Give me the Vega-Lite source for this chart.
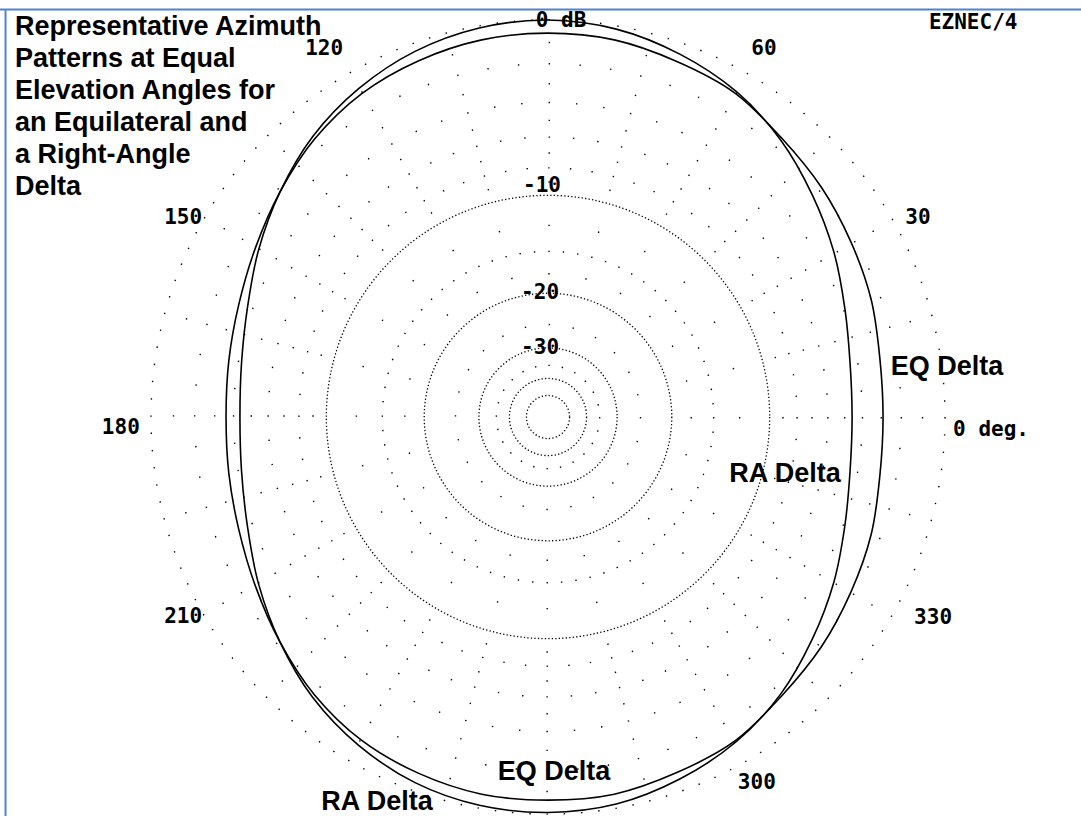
{
  "$schema": "https://vega.github.io/schema/vega-lite/v6.json",
  "width": 1081,
  "height": 816,
  "padding": 0,
  "autosize": {"type": "none"},
  "background": "white",
  "config": {"view": {"stroke": null}, "axis": {"disable": true}, "legend": {"disable": true}},
  "datasets": {
    "curves": [
      {"s": "RA", "i": 0, "x": 0.766, "y": 0},
      {"s": "RA", "i": 1, "x": 0.761, "y": 0.134},
      {"s": "RA", "i": 2, "x": 0.748, "y": 0.272},
      {"s": "RA", "i": 3, "x": 0.720, "y": 0.416},
      {"s": "RA", "i": 4, "x": 0.666, "y": 0.559},
      {"s": "RA", "i": 5, "x": 0.586, "y": 0.698},
      {"s": "RA", "i": 6, "x": 0.474, "y": 0.820},
      {"s": "RA", "i": 7, "x": 0.332, "y": 0.914},
      {"s": "RA", "i": 8, "x": 0.172, "y": 0.977},
      {"s": "RA", "i": 9, "x": 0, "y": 1.0},
      {"s": "RA", "i": 10, "x": -0.173, "y": 0.980},
      {"s": "RA", "i": 11, "x": -0.335, "y": 0.921},
      {"s": "RA", "i": 12, "x": -0.477, "y": 0.827},
      {"s": "RA", "i": 13, "x": -0.593, "y": 0.706},
      {"s": "RA", "i": 14, "x": -0.675, "y": 0.567},
      {"s": "RA", "i": 15, "x": -0.729, "y": 0.421},
      {"s": "RA", "i": 16, "x": -0.757, "y": 0.276},
      {"s": "RA", "i": 17, "x": -0.772, "y": 0.136},
      {"s": "RA", "i": 18, "x": -0.776, "y": 0},
      {"s": "RA", "i": 19, "x": -0.772, "y": -0.136},
      {"s": "RA", "i": 20, "x": -0.757, "y": -0.276},
      {"s": "RA", "i": 21, "x": -0.729, "y": -0.421},
      {"s": "RA", "i": 22, "x": -0.675, "y": -0.567},
      {"s": "RA", "i": 23, "x": -0.593, "y": -0.706},
      {"s": "RA", "i": 24, "x": -0.477, "y": -0.827},
      {"s": "RA", "i": 25, "x": -0.335, "y": -0.921},
      {"s": "RA", "i": 26, "x": -0.173, "y": -0.978},
      {"s": "RA", "i": 27, "x": 0, "y": -0.996},
      {"s": "RA", "i": 28, "x": 0.172, "y": -0.975},
      {"s": "RA", "i": 29, "x": 0.332, "y": -0.912},
      {"s": "RA", "i": 30, "x": 0.474, "y": -0.818},
      {"s": "RA", "i": 31, "x": 0.586, "y": -0.698},
      {"s": "RA", "i": 32, "x": 0.666, "y": -0.559},
      {"s": "RA", "i": 33, "x": 0.720, "y": -0.416},
      {"s": "RA", "i": 34, "x": 0.748, "y": -0.272},
      {"s": "RA", "i": 35, "x": 0.761, "y": -0.134},
      {"s": "EQ", "i": 0, "x": 0.844, "y": 0},
      {"s": "EQ", "i": 1, "x": 0.836, "y": 0.147},
      {"s": "EQ", "i": 2, "x": 0.814, "y": 0.296},
      {"s": "EQ", "i": 3, "x": 0.763, "y": 0.441},
      {"s": "EQ", "i": 4, "x": 0.689, "y": 0.578},
      {"s": "EQ", "i": 5, "x": 0.589, "y": 0.702},
      {"s": "EQ", "i": 6, "x": 0.471, "y": 0.816},
      {"s": "EQ", "i": 7, "x": 0.326, "y": 0.895},
      {"s": "EQ", "i": 8, "x": 0.167, "y": 0.950},
      {"s": "EQ", "i": 9, "x": 0, "y": 0.967},
      {"s": "EQ", "i": 10, "x": -0.167, "y": 0.950},
      {"s": "EQ", "i": 11, "x": -0.327, "y": 0.897},
      {"s": "EQ", "i": 12, "x": -0.470, "y": 0.814},
      {"s": "EQ", "i": 13, "x": -0.588, "y": 0.700},
      {"s": "EQ", "i": 14, "x": -0.675, "y": 0.567},
      {"s": "EQ", "i": 15, "x": -0.737, "y": 0.426},
      {"s": "EQ", "i": 16, "x": -0.779, "y": 0.283},
      {"s": "EQ", "i": 17, "x": -0.804, "y": 0.142},
      {"s": "EQ", "i": 18, "x": -0.811, "y": 0},
      {"s": "EQ", "i": 19, "x": -0.804, "y": -0.142},
      {"s": "EQ", "i": 20, "x": -0.779, "y": -0.283},
      {"s": "EQ", "i": 21, "x": -0.737, "y": -0.426},
      {"s": "EQ", "i": 22, "x": -0.675, "y": -0.567},
      {"s": "EQ", "i": 23, "x": -0.588, "y": -0.700},
      {"s": "EQ", "i": 24, "x": -0.470, "y": -0.814},
      {"s": "EQ", "i": 25, "x": -0.327, "y": -0.897},
      {"s": "EQ", "i": 26, "x": -0.167, "y": -0.950},
      {"s": "EQ", "i": 27, "x": 0, "y": -0.965},
      {"s": "EQ", "i": 28, "x": 0.167, "y": -0.950},
      {"s": "EQ", "i": 29, "x": 0.326, "y": -0.895},
      {"s": "EQ", "i": 30, "x": 0.471, "y": -0.816},
      {"s": "EQ", "i": 31, "x": 0.589, "y": -0.702},
      {"s": "EQ", "i": 32, "x": 0.689, "y": -0.578},
      {"s": "EQ", "i": 33, "x": 0.763, "y": -0.441},
      {"s": "EQ", "i": 34, "x": 0.814, "y": -0.296},
      {"s": "EQ", "i": 35, "x": 0.836, "y": -0.147}
    ],
    "rings": [
      {"db": 0, "r": 1},
      {"db": -1, "r": 0.9434},
      {"db": -2, "r": 0.89},
      {"db": -3, "r": 0.8396},
      {"db": -4, "r": 0.7921},
      {"db": -5, "r": 0.7473},
      {"db": -6, "r": 0.705},
      {"db": -7, "r": 0.6651},
      {"db": -8, "r": 0.6274},
      {"db": -9, "r": 0.5919},
      {"db": -10, "r": 0.5584},
      {"db": -12.5, "r": 0.4827},
      {"db": -15, "r": 0.4173},
      {"db": -17.5, "r": 0.3607},
      {"db": -20, "r": 0.3118},
      {"db": -25, "r": 0.233},
      {"db": -30, "r": 0.1741},
      {"db": -35, "r": 0.1301},
      {"db": -40, "r": 0.0972},
      {"db": -50, "r": 0.0543}
    ],
    "mono": [
      {"label": "0 dB", "x": 0.033, "y": 0.997},
      {"label": "60", "x": 0.544, "y": 0.927},
      {"label": "120", "x": -0.564, "y": 0.927},
      {"label": "30", "x": 0.932, "y": 0.501},
      {"label": "150", "x": -0.919, "y": 0.501},
      {"label": "180", "x": -1.076, "y": -0.028},
      {"label": "0 deg.", "x": 1.116, "y": -0.033},
      {"label": "210", "x": -0.919, "y": -0.504},
      {"label": "330", "x": 0.97, "y": -0.506},
      {"label": "300", "x": 0.526, "y": -0.922},
      {"label": "-10", "x": -0.015, "y": 0.582},
      {"label": "-20", "x": -0.02, "y": 0.312},
      {"label": "-30", "x": -0.02, "y": 0.174},
      {"label": "EZNEC/4", "x": 1.071, "y": 0.992}
    ],
    "sans": [
      {"label": "EQ Delta", "x": 1.005, "y": 0.126},
      {"label": "RA Delta", "x": 0.597, "y": -0.144},
      {"label": "EQ Delta", "x": 0.015, "y": -0.894},
      {"label": "RA Delta", "x": -0.431, "y": -0.97}
    ]
  },
  "encoding": {
    "x": {"type": "quantitative", "scale": {"domain": [-1.3804, 1.3426], "nice": false, "zero": false}, "axis": null},
    "y": {"type": "quantitative", "scale": {"domain": [-1.005, 1.0504], "nice": false, "zero": false}, "axis": null}
  },
  "layer": [
    {
      "data": {"values": [{}]},
      "mark": {"type": "rule", "color": "#5082d2", "strokeWidth": 2},
      "encoding": {"y": {"datum": 1.0264, "type": "quantitative"}}
    },
    {
      "data": {"values": [{}]},
      "mark": {"type": "rule", "color": "#5082d2", "strokeWidth": 2},
      "encoding": {"x": {"datum": -1.3665, "type": "quantitative"}, "y": {"datum": 1.0264, "type": "quantitative"}, "y2": {"datum": -1.005}}
    },
    {
      "data": {"name": "rings"},
      "transform": [{"filter": "datum.db == 0"}],
      "mark": {"type": "point", "shape": "circle", "filled": false, "opacity": 1, "stroke": "#000000", "strokeWidth": 1.4, "strokeDash": [1.4, 15.9224]},
      "encoding": {"x": {"datum": 0, "type": "quantitative"}, "y": {"datum": 0, "type": "quantitative"}, "size": {"field": "r", "type": "quantitative", "scale": {"type": "pow", "exponent": 2, "domain": [0, 1], "range": [0, 630436]}, "legend": null}}
    },
    {
      "data": {"name": "rings"},
      "transform": [{"filter": "datum.db == -1"}],
      "mark": {"type": "point", "shape": "circle", "filled": false, "opacity": 1, "stroke": "#000000", "strokeWidth": 1.4, "strokeDash": [1.4, 96.652]},
      "encoding": {"x": {"datum": 0, "type": "quantitative"}, "y": {"datum": 0, "type": "quantitative"}, "size": {"field": "r", "type": "quantitative", "scale": {"type": "pow", "exponent": 2, "domain": [0, 1], "range": [0, 630436]}, "legend": null}}
    },
    {
      "data": {"name": "rings"},
      "transform": [{"filter": "datum.db == -2"}],
      "mark": {"type": "point", "shape": "circle", "filled": false, "opacity": 1, "stroke": "#000000", "strokeWidth": 1.4, "strokeDash": [1.4, 29.434]},
      "encoding": {"x": {"datum": 0, "type": "quantitative"}, "y": {"datum": 0, "type": "quantitative"}, "size": {"field": "r", "type": "quantitative", "scale": {"type": "pow", "exponent": 2, "domain": [0, 1], "range": [0, 630436]}, "legend": null}}
    },
    {
      "data": {"name": "rings"},
      "transform": [{"filter": "datum.db == -3"}],
      "mark": {"type": "point", "shape": "circle", "filled": false, "opacity": 1, "stroke": "#000000", "strokeWidth": 1.4, "strokeDash": [1.4, 85.863]},
      "encoding": {"x": {"datum": 0, "type": "quantitative"}, "y": {"datum": 0, "type": "quantitative"}, "size": {"field": "r", "type": "quantitative", "scale": {"type": "pow", "exponent": 2, "domain": [0, 1], "range": [0, 630436]}, "legend": null}}
    },
    {
      "data": {"name": "rings"},
      "transform": [{"filter": "datum.db == -4"}],
      "mark": {"type": "point", "shape": "circle", "filled": false, "opacity": 1, "stroke": "#000000", "strokeWidth": 1.4, "strokeDash": [1.4, 26.042]},
      "encoding": {"x": {"datum": 0, "type": "quantitative"}, "y": {"datum": 0, "type": "quantitative"}, "size": {"field": "r", "type": "quantitative", "scale": {"type": "pow", "exponent": 2, "domain": [0, 1], "range": [0, 630436]}, "legend": null}}
    },
    {
      "data": {"name": "rings"},
      "transform": [{"filter": "datum.db == -5"}],
      "mark": {"type": "point", "shape": "circle", "filled": false, "opacity": 1, "stroke": "#000000", "strokeWidth": 1.4, "strokeDash": [1.4, 76.27]},
      "encoding": {"x": {"datum": 0, "type": "quantitative"}, "y": {"datum": 0, "type": "quantitative"}, "size": {"field": "r", "type": "quantitative", "scale": {"type": "pow", "exponent": 2, "domain": [0, 1], "range": [0, 630436]}, "legend": null}}
    },
    {
      "data": {"name": "rings"},
      "transform": [{"filter": "datum.db == -6"}],
      "mark": {"type": "point", "shape": "circle", "filled": false, "opacity": 1, "stroke": "#000000", "strokeWidth": 1.4, "strokeDash": [1.4, 23.025]},
      "encoding": {"x": {"datum": 0, "type": "quantitative"}, "y": {"datum": 0, "type": "quantitative"}, "size": {"field": "r", "type": "quantitative", "scale": {"type": "pow", "exponent": 2, "domain": [0, 1], "range": [0, 630436]}, "legend": null}}
    },
    {
      "data": {"name": "rings"},
      "transform": [{"filter": "datum.db == -7"}],
      "mark": {"type": "point", "shape": "circle", "filled": false, "opacity": 1, "stroke": "#000000", "strokeWidth": 1.4, "strokeDash": [1.4, 67.727]},
      "encoding": {"x": {"datum": 0, "type": "quantitative"}, "y": {"datum": 0, "type": "quantitative"}, "size": {"field": "r", "type": "quantitative", "scale": {"type": "pow", "exponent": 2, "domain": [0, 1], "range": [0, 630436]}, "legend": null}}
    },
    {
      "data": {"name": "rings"},
      "transform": [{"filter": "datum.db == -8"}],
      "mark": {"type": "point", "shape": "circle", "filled": false, "opacity": 1, "stroke": "#000000", "strokeWidth": 1.4, "strokeDash": [1.4, 20.336]},
      "encoding": {"x": {"datum": 0, "type": "quantitative"}, "y": {"datum": 0, "type": "quantitative"}, "size": {"field": "r", "type": "quantitative", "scale": {"type": "pow", "exponent": 2, "domain": [0, 1], "range": [0, 630436]}, "legend": null}}
    },
    {
      "data": {"name": "rings"},
      "transform": [{"filter": "datum.db == -9"}],
      "mark": {"type": "point", "shape": "circle", "filled": false, "opacity": 1, "stroke": "#000000", "strokeWidth": 1.4, "strokeDash": [1.4, 60.119]},
      "encoding": {"x": {"datum": 0, "type": "quantitative"}, "y": {"datum": 0, "type": "quantitative"}, "size": {"field": "r", "type": "quantitative", "scale": {"type": "pow", "exponent": 2, "domain": [0, 1], "range": [0, 630436]}, "legend": null}}
    },
    {
      "data": {"name": "rings"},
      "transform": [{"filter": "datum.db == -12.5"}],
      "mark": {"type": "point", "shape": "circle", "filled": false, "opacity": 1, "stroke": "#000000", "strokeWidth": 1.4, "strokeDash": [1.4, 48.769]},
      "encoding": {"x": {"datum": 0, "type": "quantitative"}, "y": {"datum": 0, "type": "quantitative"}, "size": {"field": "r", "type": "quantitative", "scale": {"type": "pow", "exponent": 2, "domain": [0, 1], "range": [0, 630436]}, "legend": null}}
    },
    {
      "data": {"name": "rings"},
      "transform": [{"filter": "datum.db == -15"}],
      "mark": {"type": "point", "shape": "circle", "filled": false, "opacity": 1, "stroke": "#000000", "strokeWidth": 1.4, "strokeDash": [1.4, 13.057]},
      "encoding": {"x": {"datum": 0, "type": "quantitative"}, "y": {"datum": 0, "type": "quantitative"}, "size": {"field": "r", "type": "quantitative", "scale": {"type": "pow", "exponent": 2, "domain": [0, 1], "range": [0, 630436]}, "legend": null}}
    },
    {
      "data": {"name": "rings"},
      "transform": [{"filter": "datum.db == -17.5"}],
      "mark": {"type": "point", "shape": "circle", "filled": false, "opacity": 1, "stroke": "#000000", "strokeWidth": 1.4, "strokeDash": [1.4, 36.089]},
      "encoding": {"x": {"datum": 0, "type": "quantitative"}, "y": {"datum": 0, "type": "quantitative"}, "size": {"field": "r", "type": "quantitative", "scale": {"type": "pow", "exponent": 2, "domain": [0, 1], "range": [0, 630436]}, "legend": null}}
    },
    {
      "data": {"name": "rings"},
      "transform": [{"filter": "datum.db == -25"}],
      "mark": {"type": "point", "shape": "circle", "filled": false, "opacity": 1, "stroke": "#000000", "strokeWidth": 1.4, "strokeDash": [1.4, 22.817]},
      "encoding": {"x": {"datum": 0, "type": "quantitative"}, "y": {"datum": 0, "type": "quantitative"}, "size": {"field": "r", "type": "quantitative", "scale": {"type": "pow", "exponent": 2, "domain": [0, 1], "range": [0, 630436]}, "legend": null}}
    },
    {
      "data": {"name": "rings"},
      "transform": [{"filter": "datum.db == -35"}],
      "mark": {"type": "point", "shape": "circle", "filled": false, "opacity": 1, "stroke": "#000000", "strokeWidth": 1.4, "strokeDash": [1.4, 12.122]},
      "encoding": {"x": {"datum": 0, "type": "quantitative"}, "y": {"datum": 0, "type": "quantitative"}, "size": {"field": "r", "type": "quantitative", "scale": {"type": "pow", "exponent": 2, "domain": [0, 1], "range": [0, 630436]}, "legend": null}}
    },
    {
      "data": {"name": "rings"},
      "transform": [{"filter": "datum.db == -10 || datum.db == -20 || datum.db == -30 || datum.db == -40 || datum.db == -50"}],
      "mark": {"type": "point", "shape": "circle", "filled": false, "opacity": 1, "stroke": "#000000", "strokeWidth": 1.3, "strokeDash": [1.3, 2.2]},
      "encoding": {"x": {"datum": 0, "type": "quantitative"}, "y": {"datum": 0, "type": "quantitative"}, "size": {"field": "r", "type": "quantitative", "scale": {"type": "pow", "exponent": 2, "domain": [0, 1], "range": [0, 630436]}, "legend": null}}
    },
    {
      "data": {"name": "curves"},
      "mark": {"type": "line", "interpolate": "cardinal-closed", "color": "black", "strokeWidth": 1.6},
      "encoding": {
        "x": {"field": "x", "type": "quantitative"},
        "y": {"field": "y", "type": "quantitative"},
        "detail": {"field": "s", "type": "nominal"},
        "order": {"field": "i", "type": "quantitative"}
      }
    },
    {
      "data": {"name": "mono"},
      "mark": {"type": "text", "font": "DejaVu Sans Mono", "fontWeight": "bold", "fontSize": 21, "align": "center", "baseline": "middle", "color": "black"},
      "encoding": {
        "x": {"field": "x", "type": "quantitative"},
        "y": {"field": "y", "type": "quantitative"},
        "text": {"field": "label", "type": "nominal"}
      }
    },
    {
      "data": {"name": "sans"},
      "mark": {"type": "text", "font": "Liberation Sans", "fontWeight": "bold", "fontSize": 27, "align": "center", "baseline": "middle", "color": "black"},
      "encoding": {
        "x": {"field": "x", "type": "quantitative"},
        "y": {"field": "y", "type": "quantitative"},
        "text": {"field": "label", "type": "nominal"}
      }
    },
    {
      "data": {"values": [{}]},
      "mark": {"type": "text", "font": "Liberation Sans", "fontWeight": "bold", "fontSize": 27, "align": "left", "baseline": "top", "lineHeight": 32, "color": "black"},
      "encoding": {
        "x": {"datum": -1.3426, "type": "quantitative"},
        "y": {"datum": 1.0151, "type": "quantitative"},
        "text": {"value": ["Representative Azimuth", "Patterns at Equal", "Elevation Angles for", "an Equilateral and", "a Right-Angle", "Delta"]}
      }
    }
  ]
}
